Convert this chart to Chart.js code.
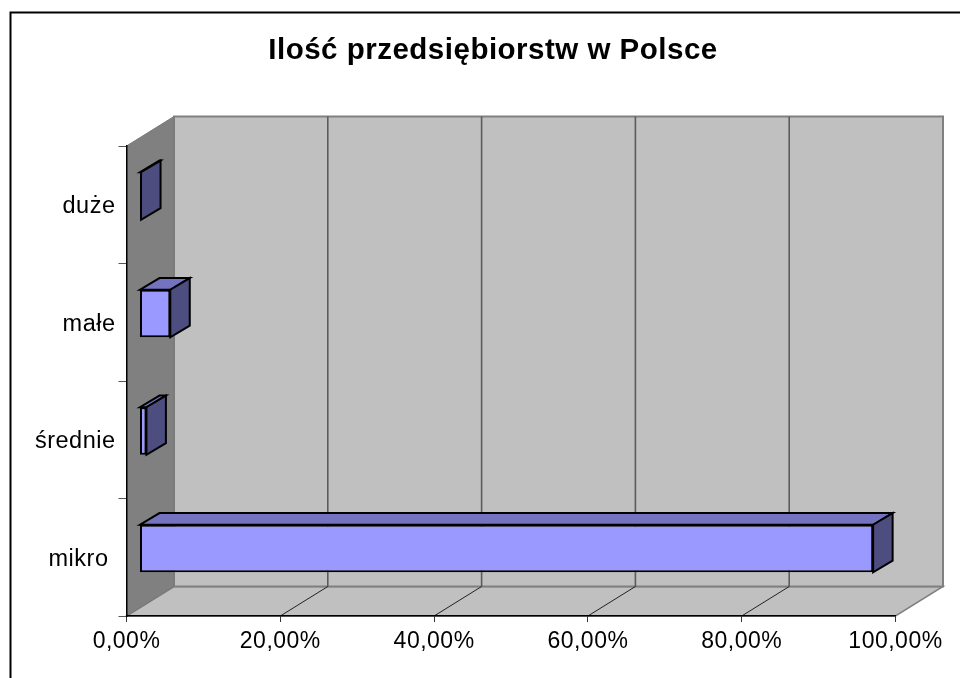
<!DOCTYPE html>
<html lang="pl">
<head>
<meta charset="utf-8">
<title>Ilość przedsiębiorstw w Polsce</title>
<script src="https://cdn.jsdelivr.net/npm/chart.js@4"></script>
<style>
  html, body { margin: 0; padding: 0; background: #fff; }
  #wykres { display: block; }
</style>
</head>
<body>
<canvas id="wykres" width="960" height="678"></canvas>
<script>
const tytul = 'Ilość przedsiębiorstw w Polsce'
const kategorie = ['duże', 'małe', 'średnie', 'mikro']
const wartosci = [0.2, 4, 0.9, 95.4]
const wartosciOsi = [0, 20, 40, 60, 80, 100]
const etykietyOsi = ['0,00%', '20,00%', '40,00%', '60,00%', '80,00%', '100,00%']

// przesuniecie "glebi" sceny i slupkow
const glebia = { x: 47.5, y: -29.5 }
const przesuniecieSlupka = { x: 13, y: -8.7 }
const glebiaSlupka = { x: 19.5, y: -11.7 }

const wielokat = (ctx, punkty, wypelnienie, obrys, grubosc) => {
  ctx.beginPath()
  punkty.forEach(([x, y], i) => i ? ctx.lineTo(x, y) : ctx.moveTo(x, y))
  ctx.closePath()
  ctx.fillStyle = wypelnienie
  ctx.fill()
  if (obrys) {
    ctx.strokeStyle = obrys
    ctx.lineWidth = grubosc
    ctx.lineJoin = 'miter'
    ctx.stroke()
  }
}

const scena3d = {
  id: 'scena3d',
  beforeUpdate(chart) {
    // tekst w oryginale jest rozciagniety w poziomie
    chart.ctx.letterSpacing = '0.5px'
  },
  afterLayout(chart) {
    // tytul wysrodkowany nad tylna sciana, nie nad calym obrazkiem
    chart.titleBlock.left = 90.5
  },
  beforeDraw(chart) {
    const { ctx, chartArea: a, scales } = chart
    const dx = glebia.x, dy = glebia.y
    ctx.save()

    // ramka obrazka (brak prawej i dolnej krawedzi)
    ctx.strokeStyle = '#000'
    ctx.lineWidth = 2
    ctx.beginPath()
    ctx.moveTo(10.5, 678)
    ctx.lineTo(10.5, 12.5)
    ctx.lineTo(960, 12.5)
    ctx.stroke()

    // podloga, sciana tylna, sciana boczna
    wielokat(ctx, [[a.left, a.bottom], [a.right, a.bottom], [a.right + dx, a.bottom + dy], [a.left + dx, a.bottom + dy]], '#c0c0c0', '#808080', 1.5)
    wielokat(ctx, [[a.left + dx, a.top + dy], [a.right + dx, a.top + dy], [a.right + dx, a.bottom + dy], [a.left + dx, a.bottom + dy]], '#c0c0c0', '#808080', 2)
    wielokat(ctx, [[a.left, a.top], [a.left + dx, a.top + dy], [a.left + dx, a.bottom + dy], [a.left, a.bottom]], '#808080', '#777', 1)

    // linie siatki na scianie tylnej i na podlodze
    scales.x.ticks.forEach(t => {
      if (t.value === 0 || t.value === 100) return
      const x = scales.x.getPixelForValue(t.value)
      ctx.strokeStyle = '#5c5c5c'
      ctx.lineWidth = 1.6
      ctx.beginPath()
      ctx.moveTo(x + dx, a.top + dy)
      ctx.lineTo(x + dx, a.bottom + dy)
      ctx.stroke()
      ctx.strokeStyle = '#222'
      ctx.lineWidth = 1
      ctx.beginPath()
      ctx.moveTo(x, a.bottom)
      ctx.lineTo(x + dx, a.bottom + dy)
      ctx.stroke()
    })
    ctx.restore()
  },
  beforeDatasetsDraw(chart) {
    chart.ctx.save()
    chart.ctx.translate(przesuniecieSlupka.x, przesuniecieSlupka.y)
  },
  afterDatasetsDraw(chart) {
    const ctx = chart.ctx
    const dx = glebiaSlupka.x, dy = glebiaSlupka.y
    chart.getDatasetMeta(0).data.forEach(el => {
      const gora = el.y - el.height / 2
      const dol = el.y + el.height / 2
      wielokat(ctx, [[el.base, gora], [el.x, gora], [el.x + dx, gora + dy], [el.base + dx, gora + dy]], '#7373bf', '#000', 2)
      wielokat(ctx, [[el.x, gora], [el.x + dx, gora + dy], [el.x + dx, dol + dy], [el.x, dol]], '#4d4d80', '#000', 2)
    })
    ctx.restore()
  }
}

new Chart(document.getElementById('wykres'), {
  type: 'bar',
  plugins: [scena3d],
  data: {
    labels: kategorie,
    datasets: [{
      label: tytul,
      data: wartosci,
      backgroundColor: '#9999ff',
      borderColor: '#000',
      borderWidth: 2,
      borderSkipped: false,
      categoryPercentage: 1,
      barPercentage: 0.405
    }]
  },
  options: {
    indexAxis: 'y',
    responsive: false,
    animation: false,
    layout: { padding: { left: 0, right: 64.5, top: 0, bottom: 0 } },
    plugins: {
      legend: { display: false },
      tooltip: { enabled: false },
      title: {
        display: true,
        text: tytul,
        color: '#000',
        font: { family: 'Liberation Sans', size: 29.5, weight: 'bold', lineHeight: 1.2 },
        padding: { top: 33, bottom: 77.6 }
      }
    },
    scales: {
      x: {
        type: 'linear',
        min: 0,
        max: 100,
        afterBuildTicks: s => { s.ticks = wartosciOsi.map(value => ({ value })) },
        afterFit: s => { s.height = 62 },
        grid: { drawOnChartArea: false, tickLength: 6, tickColor: '#333' },
        border: { display: true, color: '#000', width: 1.5 },
        ticks: {
          autoSkip: false,
          maxRotation: 0,
          padding: 6,
          color: '#000',
          font: { family: 'Liberation Sans', size: 23 },
          callback: (v, i) => etykietyOsi[i]
        }
      },
      y: {
        afterFit: s => { s.width = 126.5 },
        grid: { drawOnChartArea: false, offset: true, tickLength: 8, tickColor: '#555' },
        border: { display: true, color: '#000', width: 1.5 },
        ticks: {
          autoSkip: false,
          padding: 3,
          labelOffset: 2,
          color: '#000',
          font: { family: 'Liberation Sans', size: 23.5 },
          // "mikro" w oryginale lezy nieco blizej srodka
          callback: (v, i) => kategorie[i] === 'mikro' ? kategorie[i] + '\u00a0' : kategorie[i]
        }
      }
    }
  }
})
</script>
</body>
</html>
